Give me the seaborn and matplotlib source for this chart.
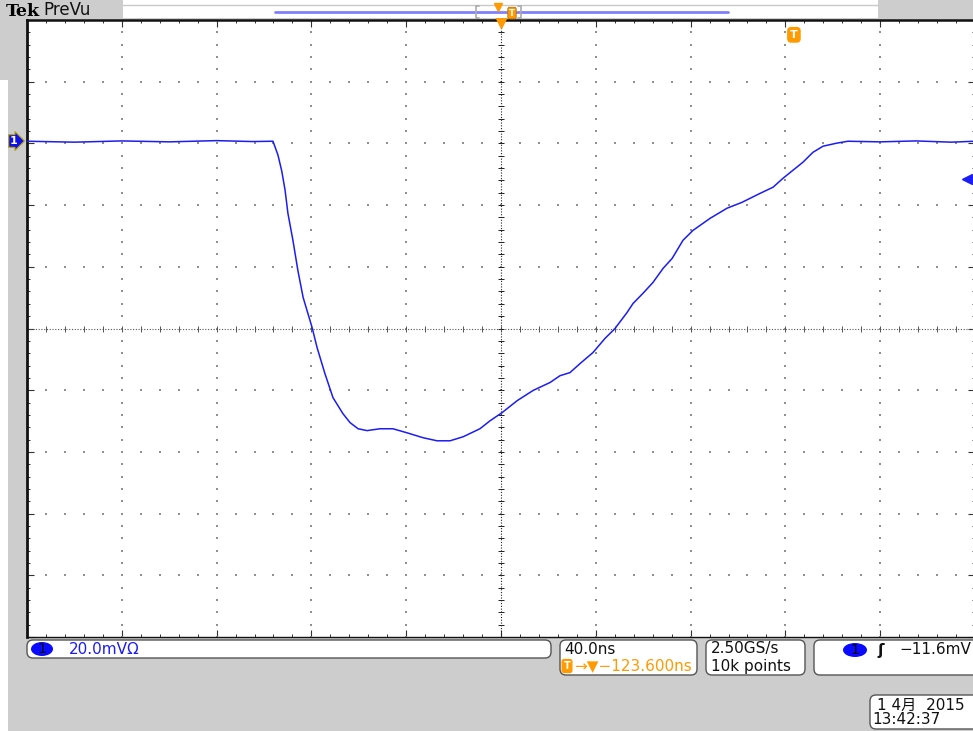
import numpy as np
import pandas as pd
import matplotlib
matplotlib.use("Agg")
import matplotlib.pyplot as plt
from matplotlib.patches import FancyBboxPatch, Rectangle, Ellipse
from matplotlib.lines import Line2D
from matplotlib.transforms import IdentityTransform
import seaborn as sns

# ---------------------------------------------------------------------------
# DONNEES (lues sur la capture)
# ---------------------------------------------------------------------------
t_ns = [-200, -180, -160, -140, -120, -105, -96.2, -94.1, -92.5, -91.1, -89.9, -87.8,
        -85.7, -83.5, -79.7, -77.6, -74.3, -70.9, -66.7, -63.7, -60.3, -56.5,
        -51.1, -45.6, -39.7, -32.9, -27.0, -21.5, -16.0, -8.9, -4.6, 0.4, 6.8,
        13.5, 20.7, 24.9, 29.1, 33.3, 38.8, 43.9, 48.1, 53.2, 55.7, 59.9, 64.1,
        68.4, 72.2, 76.8, 81.0, 88.2, 95.4, 101.7, 109.3, 114.8, 119.0, 123.2,
        127.4, 131.6, 135.9, 141.8, 146.4, 160, 175, 190, 200]
v_mv = [0.7, 0.4, 0.8, 0.5, 0.9, 0.6, 0.7, -3.8, -9.0, -15.2, -22.7, -31.4,
        -41.2, -49.9, -59.7, -66.2, -74.6, -82.4, -87.6, -90.5, -92.5, -93.1,
        -92.5, -92.5, -93.8, -95.4, -96.4, -96.4, -95.1, -92.5, -89.9, -87.3, -83.4,
        -80.1, -77.5, -75.3, -74.3, -71.4, -67.8, -63.2, -60.0, -54.8, -51.9, -48.6, -45.1,
        -40.5, -37.3, -31.4, -28.2, -24.3, -21.0, -19.1, -16.2, -14.2, -11.3, -8.7,
        -6.1, -2.9, -0.9, 0.1, 0.7, 0.5, 0.8, 0.4, 0.7]

trig_level_mv = -11.6
trig_offset_ns = 123.6
volts_div = "20.0mVΩ"
time_div = "40.0ns"
trig_text = "→▼−123.600ns"
rate_text = "2.50GS/s"
points_text = "10k points"
level_text = "−11.6mV"
date_text = "1 4月  2015"
time_text = "13:42:37"

# ---------------------------------------------------------------------------
# STYLE
# ---------------------------------------------------------------------------
sns.set_style("white")
plt.rcParams["font.family"] = ["DejaVu Sans", "Noto Sans CJK JP"]

W, H = 973, 731
GRAY = "#cdcdcd"
BLUE = "#1c1cf5"
ORANGE = "#ff9a00"
FS = 11
ID = IdentityTransform()


def P(x, y):
    # pixel (origine en haut a gauche) -> coordonnees ecran
    return x, H - y


fig = plt.figure(figsize=(W / 100, H / 100), dpi=100, facecolor=GRAY)

# fonds
fig.patches.append(Rectangle(P(0, H), 8, H - 80, transform=ID, fc="white", ec="none"))
fig.patches.append(Rectangle(P(123, 18), 755, 18, transform=ID, fc="white", ec="none"))
fig.lines.append(Line2D([123, 878], [H - 5, H - 5], transform=ID, color="#c8c8c8", lw=1))

# ---------------------------------------------------------------------------
# ECRAN
# ---------------------------------------------------------------------------
ax = fig.add_axes([27 / W, 1 - 637 / H, 948 / W, 617 / H])
ax.set_facecolor("white")
ax.set_xlim(-200, 200)
ax.set_ylim(-160, 40)

# grille pointillee
xs_major = np.arange(-160, 161, 40)
ys_major = np.arange(-140, 21, 20)
xs_minor = np.arange(-200, 200.1, 8)
ys_minor = np.arange(-160, 40.1, 4)
for xm in xs_major:
    if xm == 0:
        continue
    ax.scatter(np.full(ys_minor.size, xm), ys_minor, s=2, marker="s", color="#909090", lw=0, zorder=1)
for ym in ys_major:
    if ym == -60:
        continue
    ax.scatter(xs_minor, np.full(xs_minor.size, ym), s=2, marker="s", color="#909090", lw=0, zorder=1)

# axes centraux
ax.axhline(-60, color="#555555", lw=0.8, ls=(0, (1, 1.5)), zorder=1)
ax.axvline(0, color="#222222", lw=0.8, ls=(0, (1, 1.5)), zorder=1)
ax.plot(xs_minor, np.full(xs_minor.size, -60), ls="none", marker="|", ms=4, mew=0.7, color="#555555", zorder=1)
ax.plot(np.zeros(ys_minor.size), ys_minor, ls="none", marker="_", ms=4, mew=0.7, color="#222222", zorder=1)

# trace
df = pd.DataFrame({"t": t_ns, "v": v_mv})
sns.lineplot(data=df, x="t", y="v", sort=False, estimator=None, color=BLUE, lw=1.1, ax=ax, zorder=3)
ax.set_xlabel("")
ax.set_ylabel("")

# graduations du cadre
ax.set_xticks(np.arange(-200, 201, 40))
ax.set_xticks(xs_minor, minor=True)
ax.set_yticks(np.arange(-160, 41, 20))
ax.set_yticks(ys_minor, minor=True)
ax.tick_params(which="both", direction="in", top=True, bottom=True, left=True, right=True,
               labelbottom=False, labelleft=False, color="#333333")
ax.tick_params(which="major", length=5, width=0.8)
ax.tick_params(which="minor", length=2.5, width=0.7)
ax.spines["left"].set_linewidth(2)
ax.spines["top"].set_linewidth(1.8)
ax.spines["bottom"].set_linewidth(1)
for s in ax.spines.values():
    s.set_color("#111111")

# marqueurs de declenchement
ax.plot([0], [39.2], marker="v", ms=9, color=ORANGE, clip_on=False, zorder=5)
ax.plot([196.5], [trig_level_mv], marker="<", ms=7, color=BLUE, clip_on=False, zorder=5)
ax.plot([197, 200], [trig_level_mv, trig_level_mv], color=BLUE, lw=1.5, clip_on=False, zorder=5)
ax.text(trig_offset_ns, 35.2, "T", color="white", fontsize=8, fontweight="bold",
        ha="center", va="center", zorder=6,
        bbox=dict(boxstyle="round,pad=0.2,rounding_size=0.3", fc=ORANGE, ec=ORANGE))

# repere de voie 1
fig.text(*P(10, 141), "1", transform=ID, color="white", fontsize=8, fontweight="bold",
         ha="left", va="center",
         bbox=dict(boxstyle="rarrow,pad=0.12", fc="#1010e8", ec="#b9a800", lw=0.8))

# ---------------------------------------------------------------------------
# BANDEAU HAUT
# ---------------------------------------------------------------------------
fig.text(*P(6, 11), "Tek", transform=ID, fontsize=12.5, fontweight="bold",
         family="DejaVu Serif", va="center", color="#000000")
fig.text(*P(43, 10), "PreVu", transform=ID, fontsize=12, va="center", color="#111111")
fig.lines.append(Line2D([275, 728], [H - 12, H - 12], transform=ID, color="#8080ff", lw=2))
for xb, d in [(476, 1), (521, -1)]:
    fig.lines.append(Line2D([xb + 3 * d, xb, xb, xb + 3 * d], [H - 6, H - 6, H - 18, H - 18],
                            transform=ID, color="#aaaaaa", lw=1.2))
fig.lines.append(Line2D([498], [H - 7], transform=ID, marker="v", ms=6, color=ORANGE, ls="none"))
fig.text(*P(512, 13), "T", transform=ID, color="white", fontsize=6, fontweight="bold",
         ha="center", va="center",
         bbox=dict(boxstyle="round,pad=0.15,rounding_size=0.2", fc=ORANGE, ec="#c07000", lw=0.6))

# ---------------------------------------------------------------------------
# BANDEAU BAS
# ---------------------------------------------------------------------------
def box(x0, y0, x1, y1):
    fig.patches.append(FancyBboxPatch(P(x0, y1), x1 - x0, y1 - y0, transform=ID,
                                      boxstyle="round,pad=0,rounding_size=6",
                                      fc="white", ec="#555555", lw=1))


box(27, 640, 551, 658)
box(560, 640, 697, 675)
box(706, 640, 805, 675)
box(814, 640, 990, 675)
box(870, 695, 990, 729)

fig.patches.append(Ellipse(P(42, 649), 22, 14, transform=ID, fc="#0a0aff", ec="none"))
fig.text(*P(42, 649), "1", transform=ID, fontsize=10, ha="center", va="center", color="black")
fig.text(*P(69, 649), volts_div, transform=ID, fontsize=FS, va="center", color=BLUE)

fig.text(*P(564, 649), time_div, transform=ID, fontsize=FS, va="center", color="#111111")
fig.text(*P(567, 666), "T", transform=ID, fontsize=7, fontweight="bold", ha="center", va="center",
         color="white", bbox=dict(boxstyle="round,pad=0.15,rounding_size=0.2", fc=ORANGE, ec=ORANGE))
fig.text(*P(574, 666), trig_text, transform=ID, fontsize=FS, va="center", color=ORANGE)

fig.text(*P(711, 649), rate_text, transform=ID, fontsize=FS, va="center", color="#111111")
fig.text(*P(711, 666), points_text, transform=ID, fontsize=FS, va="center", color="#111111")

fig.patches.append(Ellipse(P(855, 650), 24, 14, transform=ID, fc="#0a0aff", ec="none"))
fig.text(*P(855, 650), "1", transform=ID, fontsize=10, ha="center", va="center", color="black")
fig.text(*P(881, 650), "ʃ", transform=ID, fontsize=FS, fontweight="bold", ha="center", va="center",
         color="#111111")
fig.text(*P(899, 650), level_text, transform=ID, fontsize=FS, va="center", color="#111111")

fig.text(*P(877, 705), date_text, transform=ID, fontsize=FS, va="center", color="#111111")
fig.text(*P(872, 720), time_text, transform=ID, fontsize=FS, va="center", color="#111111")

fig.savefig("out.png", dpi=100, facecolor=GRAY)
plt.close(fig)
